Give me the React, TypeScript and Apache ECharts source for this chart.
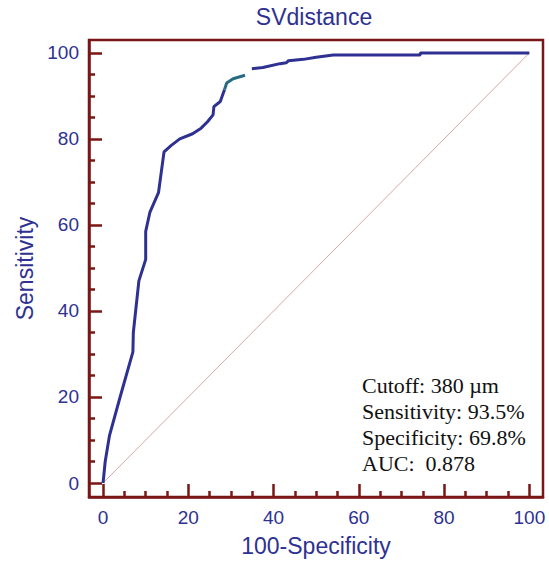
import React, { useEffect, useRef } from "react";
import * as echarts from "echarts";

const titleText = "SVdistance";
const xName = "100-Specificity";
const yName = "Sensitivity";
const majorTicks = [0, 20, 40, 60, 80, 100];
const minorTicks = [5, 10, 15, 25, 30, 35, 45, 50, 55, 65, 70, 75, 85, 90, 95];

// ROC curve (100-Specificity, Sensitivity), main blue part
const rocX1 = [0, 0.5, 1.5, 4, 7, 7.1, 8.4, 10, 10, 11, 13, 14.3, 16, 18, 21, 23, 24.5, 25.8, 26, 27.5, 28.5];
const rocY1 = [0, 5, 11, 20, 30.5, 35, 47, 52, 58.5, 63, 67.5, 77, 78.5, 80, 81.2, 82.5, 84, 85.6, 87.5, 88.7, 91.5];
// teal stretch
const rocX2 = [28.5, 29, 30.5, 33.3];
const rocY2 = [91.5, 93, 94, 94.8];
// blue after the gap
const rocX3 = [34.9, 37.5, 41.5, 43, 43.5, 47, 50, 54, 74.4, 74.4, 100];
const rocY3 = [96.3, 96.6, 97.5, 97.7, 98.2, 98.5, 99, 99.5, 99.5, 100, 100];
const diagX = [0, 100];
const diagY = [0, 100];

const noteLines = ["Cutoff: 380 µm", "Sensitivity: 93.5%", "Specificity: 69.8%", "AUC:  0.878"];

const zip = (xs: number[], ys: number[]) => xs.map((x, i) => [x, ys[i]]);

const MAROON = "#7a1616";
const NAVY = "#2e3192";
const FONT = '"Liberation Sans", Arial, sans-serif';

export default function App() {
  const ref = useRef<HTMLDivElement>(null);
  useEffect(() => {
    if (!ref.current) return;
    const chart = echarts.init(ref.current, undefined, { renderer: "svg" });
    const xBase = { type: "value", min: -3.3, max: 103.2, splitLine: { show: false }, position: "bottom" };
    const yBase = { type: "value", min: -3.25, max: 103, splitLine: { show: false }, position: "left" };
    chart.setOption({
      animation: false,
      backgroundColor: "#ffffff",
      title: {
        text: titleText,
        left: 314,
        top: 5,
        padding: 0,
        textAlign: "center",
        textStyle: { color: NAVY, fontSize: 23, fontWeight: "normal", fontFamily: FONT },
      },
      grid: {
        left: 89,
        right: 6,
        top: 40,
        bottom: 63,
        show: true,
        borderColor: MAROON,
        borderWidth: 2.5,
        backgroundColor: "#ffffff",
      },
      xAxis: [
        {
          ...xBase,
          name: xName,
          nameLocation: "middle",
          nameGap: 37,
          nameTextStyle: { color: NAVY, fontSize: 23, fontFamily: FONT },
          axisLine: { show: true, onZero: false, lineStyle: { color: MAROON, width: 2.5 } },
          axisTick: { show: true, inside: true, length: 13, customValues: majorTicks, lineStyle: { color: MAROON, width: 2.5 } },
          axisLabel: { show: true, customValues: majorTicks, margin: 11, color: NAVY, fontSize: 19, fontFamily: FONT },
        },
        {
          ...xBase,
          axisLine: { show: false, onZero: false },
          axisTick: { show: true, inside: true, length: 6, customValues: minorTicks, lineStyle: { color: MAROON, width: 2.5 } },
          axisLabel: { show: false },
        },
      ],
      yAxis: [
        {
          ...yBase,
          name: yName,
          nameLocation: "middle",
          nameGap: 45,
          nameTextStyle: { color: NAVY, fontSize: 23, fontFamily: FONT },
          axisLine: { show: true, onZero: false, lineStyle: { color: MAROON, width: 2.5 } },
          axisTick: { show: true, inside: true, length: 13, customValues: majorTicks, lineStyle: { color: MAROON, width: 2.5 } },
          axisLabel: { show: true, customValues: majorTicks, margin: 10, color: NAVY, fontSize: 19, fontFamily: FONT },
        },
        {
          ...yBase,
          axisLine: { show: false, onZero: false },
          axisTick: { show: true, inside: true, length: 6, customValues: minorTicks, lineStyle: { color: MAROON, width: 2.5 } },
          axisLabel: { show: false },
        },
      ],
      series: [
        {
          type: "line",
          data: zip(diagX, diagY),
          showSymbol: false,
          lineStyle: { color: "#d6a8a8", width: 1 },
          z: 1,
        },
        {
          type: "line",
          data: zip(rocX1, rocY1),
          showSymbol: false,
          lineStyle: { color: NAVY, width: 3 },
          z: 3,
        },
        {
          type: "line",
          data: zip(rocX2, rocY2),
          showSymbol: false,
          lineStyle: { color: "#2a6b84", width: 3 },
          z: 3,
        },
        {
          type: "line",
          data: zip(rocX3, rocY3),
          showSymbol: false,
          lineStyle: { color: NAVY, width: 3 },
          z: 3,
        },
      ],
      graphic: [
        {
          type: "text",
          left: 362,
          top: 372,
          z: 10,
          style: {
            text: noteLines.join("\n"),
            fill: "#111111",
            font: '22px "Liberation Serif", "Times New Roman", serif',
            lineHeight: 26,
          },
        },
      ],
    });
    return () => chart.dispose();
  }, []);
  return <div ref={ref} style={{ position: "fixed", left: 0, top: 0, width: 549, height: 562 }} />;
}
